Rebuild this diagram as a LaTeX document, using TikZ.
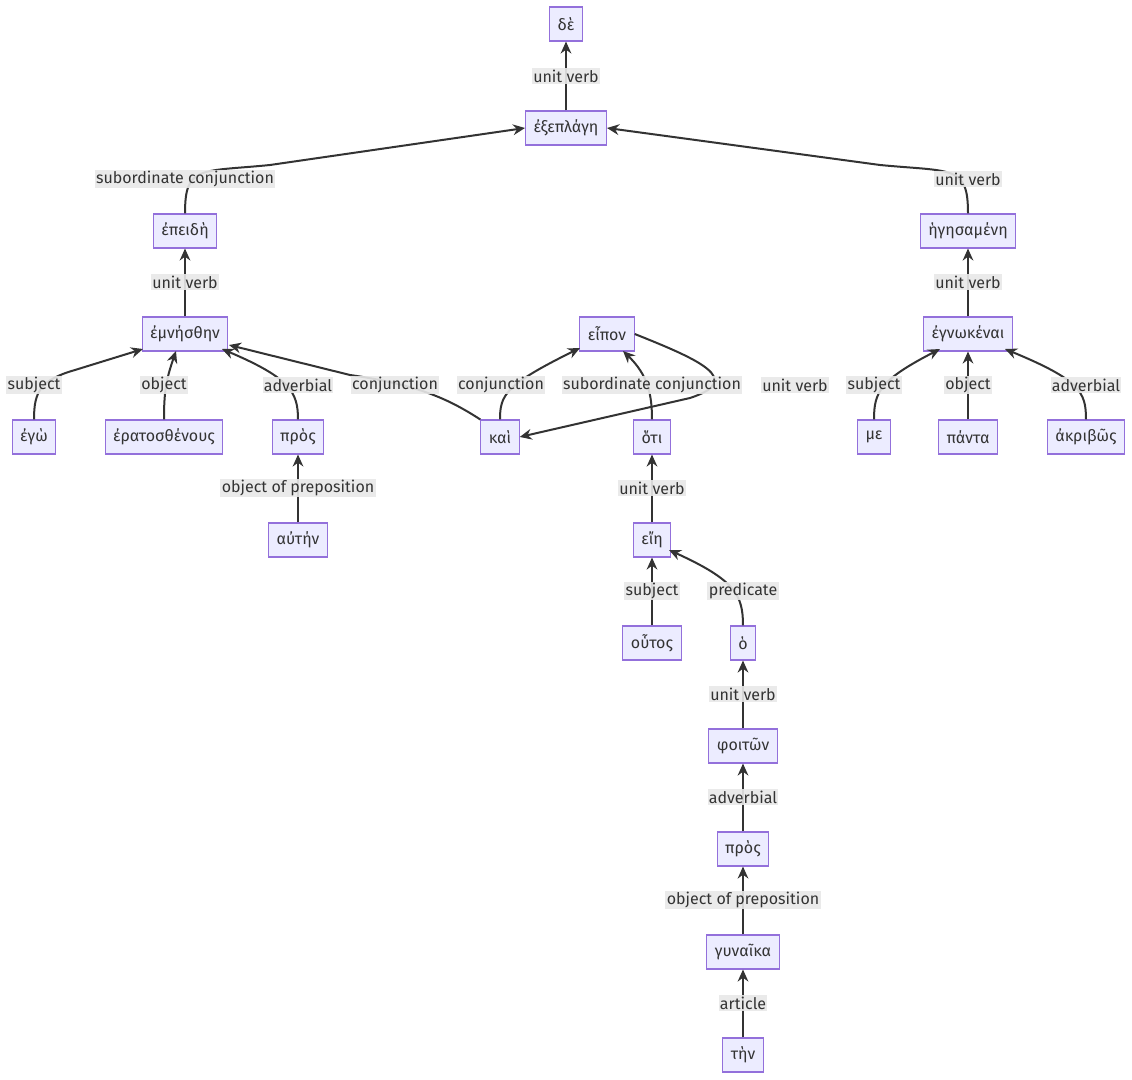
\documentclass[tikz,border=0pt]{standalone}
\usepackage{fontspec}
\setmainfont{Fira Sans}
\usetikzlibrary{arrows.meta}
\definecolor{boxline}{HTML}{9370DB}
\definecolor{boxfill}{HTML}{ECECFF}
\definecolor{lblfill}{HTML}{E8E8E8}
\definecolor{ink}{HTML}{333333}
\begin{document}
\begin{tikzpicture}[x=0.75pt,y=0.75pt,
	word/.style={draw=boxline,fill=boxfill,line width=0.8pt,minimum height=25.5pt,inner xsep=6pt,font=\fontsize{12}{14}\selectfont,text=ink},
	rel/.style={fill=lblfill,fill opacity=0.9,text opacity=1,inner sep=1pt,font=\fontsize{12}{14}\selectfont,text=ink},
	edge/.style={draw=ink,line width=1.5pt,-{Stealth[length=9pt,width=8pt]}}]
	\useasboundingbox (0,0) rectangle (1132,-1080);
	
	%WORDS
	\node[word] (de)   at (566,-24)  {δὲ};
	\node[word] (exe)  at (566,-128) {ἐξεπλάγη};
	\node[word] (ep)   at (185,-231) {ἐπειδὴ};
	\node[word] (hg)   at (968,-231) {ἡγησαμένη};
	\node[word] (emn)  at (185,-334) {ἐμνήσθην};
	\node[word] (eip)  at (607,-334) {εἶπον};
	\node[word] (egn)  at (968,-334) {ἐγνωκέναι};
	\node[word] (ego)  at (34,-437)  {ἐγὼ};
	\node[word] (era)  at (164,-437) {ἐρατοσθένους};
	\node[word] (pros) at (298,-437) {πρὸς};
	\node[word] (kai)  at (500,-437) {καὶ};
	\node[word] (hoti) at (652,-437) {ὅτι};
	\node[word] (me)   at (874,-437) {με};
	\node[word] (pan)  at (968,-437) {πάντα};
	\node[word] (akr)  at (1086,-437) {ἀκριβῶς};
	\node[word] (aut)  at (298,-540) {αὐτήν};
	\node[word] (eie)  at (652,-540) {εἴη};
	\node[word] (hout) at (652,-643) {οὗτος};
	\node[word] (ho)   at (743,-643) {ὁ};
	\node[word] (phoi) at (743,-746) {φοιτῶν};
	\node[word] (prb)  at (743,-849) {πρὸς};
	\node[word] (gyn)  at (743,-952) {γυναῖκα};
	\node[word] (ten)  at (743,-1055) {τὴν};
	
	%STRAIGHT EDGES
	\foreach \a/\b in {exe/de,emn/ep,egn/hg,pan/egn,aut/pros,eie/hoti,hout/eie,phoi/ho,prb/phoi,gyn/prb,ten/gyn}
		\draw[edge] (\a) -- (\b);
	
	%CURVED EDGES
	\draw[edge] (ep.north) .. controls (185,-165) and (200,-172) .. (270,-165) -- (exe.west);
	\draw[edge] (hg.north) .. controls (968,-165) and (953,-172) .. (880,-165) -- (exe.east);
	\draw[edge] (ego.north) .. controls (34,-392) and (40,-380) .. (75,-370) -- (143,-349);
	\draw[edge] (era.north) .. controls (164,-392) and (166,-380) .. (176,-351);
	\draw[edge] (pros.north) .. controls (298,-392) and (290,-378) .. (222,-349);
	\draw[edge] (kai.north west) .. controls (450,-400) and (420,-385) .. (350,-375) -- (229,-345);
	\draw[edge] (kai.north) .. controls (500,-395) and (505,-385) .. (580,-348);
	\draw[edge] (hoti.north) .. controls (652,-395) and (648,-375) .. (623,-351);
	\draw[edge] (eip.east) .. controls (700,-360) and (745,-380) .. (690,-398) -- (kai.east);
	\draw[edge] (me.north) .. controls (874,-392) and (880,-380) .. (940,-349);
	\draw[edge] (akr.north) .. controls (1086,-392) and (1080,-380) .. (1005,-349);
	\draw[edge] (ho.north) .. controls (743,-595) and (735,-580) .. (669,-550);
	
	%LABELS
	\foreach \x/\y/\t in {566/76/unit verb,185/179/subordinate conjunction,968/179/unit verb,
		185/282/unit verb,968/282/unit verb,34/385/subject,164/385/object,298/385/adverbial,
		395/385/conjunction,501/385/conjunction,652/385/subordinate conjunction,795/385/unit verb,
		874/385/subject,968/385/object,1086/385/adverbial,298/488/object of preposition,
		652/488/unit verb,652/591/subject,743/591/predicate,743/694/unit verb,743/797/adverbial,
		743/900/object of preposition,743/1003/article}
		\node[rel] at (\x,-\y) {\t};
\end{tikzpicture}
\end{document}
